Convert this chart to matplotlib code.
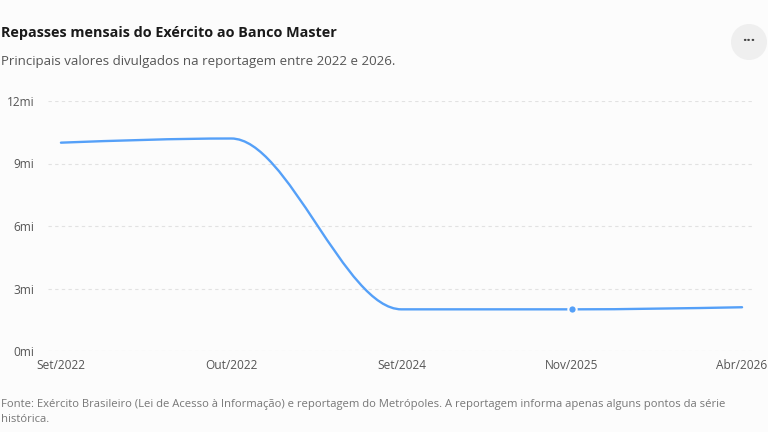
import numpy as np
import matplotlib
matplotlib.use("Agg")
import matplotlib.pyplot as plt
from matplotlib.path import Path
from matplotlib.patches import PathPatch, Ellipse

plt.rcParams['font.family'] = ['Open Sans', 'DejaVu Sans']

meses = ["Set/2022", "Out/2022", "Set/2024", "Nov/2025", "Abr/2026"]
repasses_mi = [10.0, 10.2, 2.0, 2.0, 2.1]
destaque = 3  # ponto marcado (Nov/2025)
y_ticks = [0, 3, 6, 9, 12]
y_labels = ["0mi", "3mi", "6mi", "9mi", "12mi"]

titulo = "Repasses mensais do Exército ao Banco Master"
subtitulo = "Principais valores divulgados na reportagem entre 2022 e 2026."
fonte = ("Fonte: Exército Brasileiro (Lei de Acesso à Informação) e reportagem do Metrópoles. "
         "A reportagem informa apenas alguns pontos da série\nhistórica.")

LINE = "#55a0f8"
BG = "#fcfcfc"


def monotone_path(x, y):
    # curva monotona em X (como d3.curveMonotoneX), em segmentos bezier
    x = np.asarray(x, float)
    y = np.asarray(y, float)
    n = len(x)
    h = np.diff(x)
    s = np.diff(y) / h
    t = np.zeros(n)
    for i in range(1, n - 1):
        p = (s[i - 1] * h[i] + s[i] * h[i - 1]) / (h[i - 1] + h[i])
        t[i] = (np.sign(s[i - 1]) + np.sign(s[i])) * min(abs(s[i - 1]), abs(s[i]), 0.5 * abs(p))
    t[0] = (3 * s[0] - t[1]) / 2
    t[-1] = (3 * s[-1] - t[-2]) / 2
    verts = [(x[0], y[0])]
    codes = [Path.MOVETO]
    for i in range(n - 1):
        dx = (x[i + 1] - x[i]) / 3
        verts += [(x[i] + dx, y[i] + dx * t[i]),
                  (x[i + 1] - dx, y[i + 1] - dx * t[i + 1]),
                  (x[i + 1], y[i + 1])]
        codes += [Path.CURVE4] * 3
    return Path(verts, codes)


fig = plt.figure(figsize=(7.68, 4.32), dpi=100, facecolor=BG)
W, H = 768, 432
ax = fig.add_axes([48 / W, 1 - 351 / H, (755 - 48) / W, 250 / H])
ax.set_facecolor(BG)

xs = np.arange(len(meses))
ax.add_patch(PathPatch(monotone_path(xs, repasses_mi), facecolor="none",
                       edgecolor=LINE, lw=1.7, capstyle="round", zorder=3))
ax.plot(xs[destaque], repasses_mi[destaque], "o", ms=6, color=LINE,
        mec=BG, mew=1.5, zorder=4)

ax.set_xlim(-0.076, len(meses) - 1 + 0.076)
ax.set_ylim(0, 12)
ax.set_xticks(xs)
ax.set_xticklabels(meses)
ax.set_yticks(y_ticks)
ax.set_yticklabels(y_labels)
ax.tick_params(length=0, labelsize=8.6, labelcolor="#555555")
ax.tick_params(axis="y", pad=10)
ax.tick_params(axis="x", pad=6)
ax.grid(axis="y", color="#e2e2e2", linestyle=(0, (3, 3)), lw=0.8)
ax.grid(axis="x", visible=False)
for sp in ax.spines.values():
    sp.set_visible(False)

fig.text(1 / W, 1 - 33 / H, titulo, fontsize=10.4, fontweight="bold",
         color="#1a1a1a", va="center", ha="left")
fig.text(1 / W, 1 - 62 / H, subtitulo, fontsize=9.5, color="#555555",
         va="center", ha="left")
fig.text(1 / W, 1 - 399 / H, fonte, fontsize=8.1, color="#777777",
         va="top", ha="left", linespacing=1.5)

# botao de menu no canto
fig.patches.append(Ellipse((749 / W, 1 - 42 / H), 36 / W, 36 / H,
                           transform=fig.transFigure,
                           facecolor="#efefef", edgecolor="none"))
fig.text(749 / W, 1 - 41 / H, "···", fontsize=11, fontweight="bold",
         color="#444444", ha="center", va="center")

fig.savefig("out.png", dpi=100, facecolor=BG)
